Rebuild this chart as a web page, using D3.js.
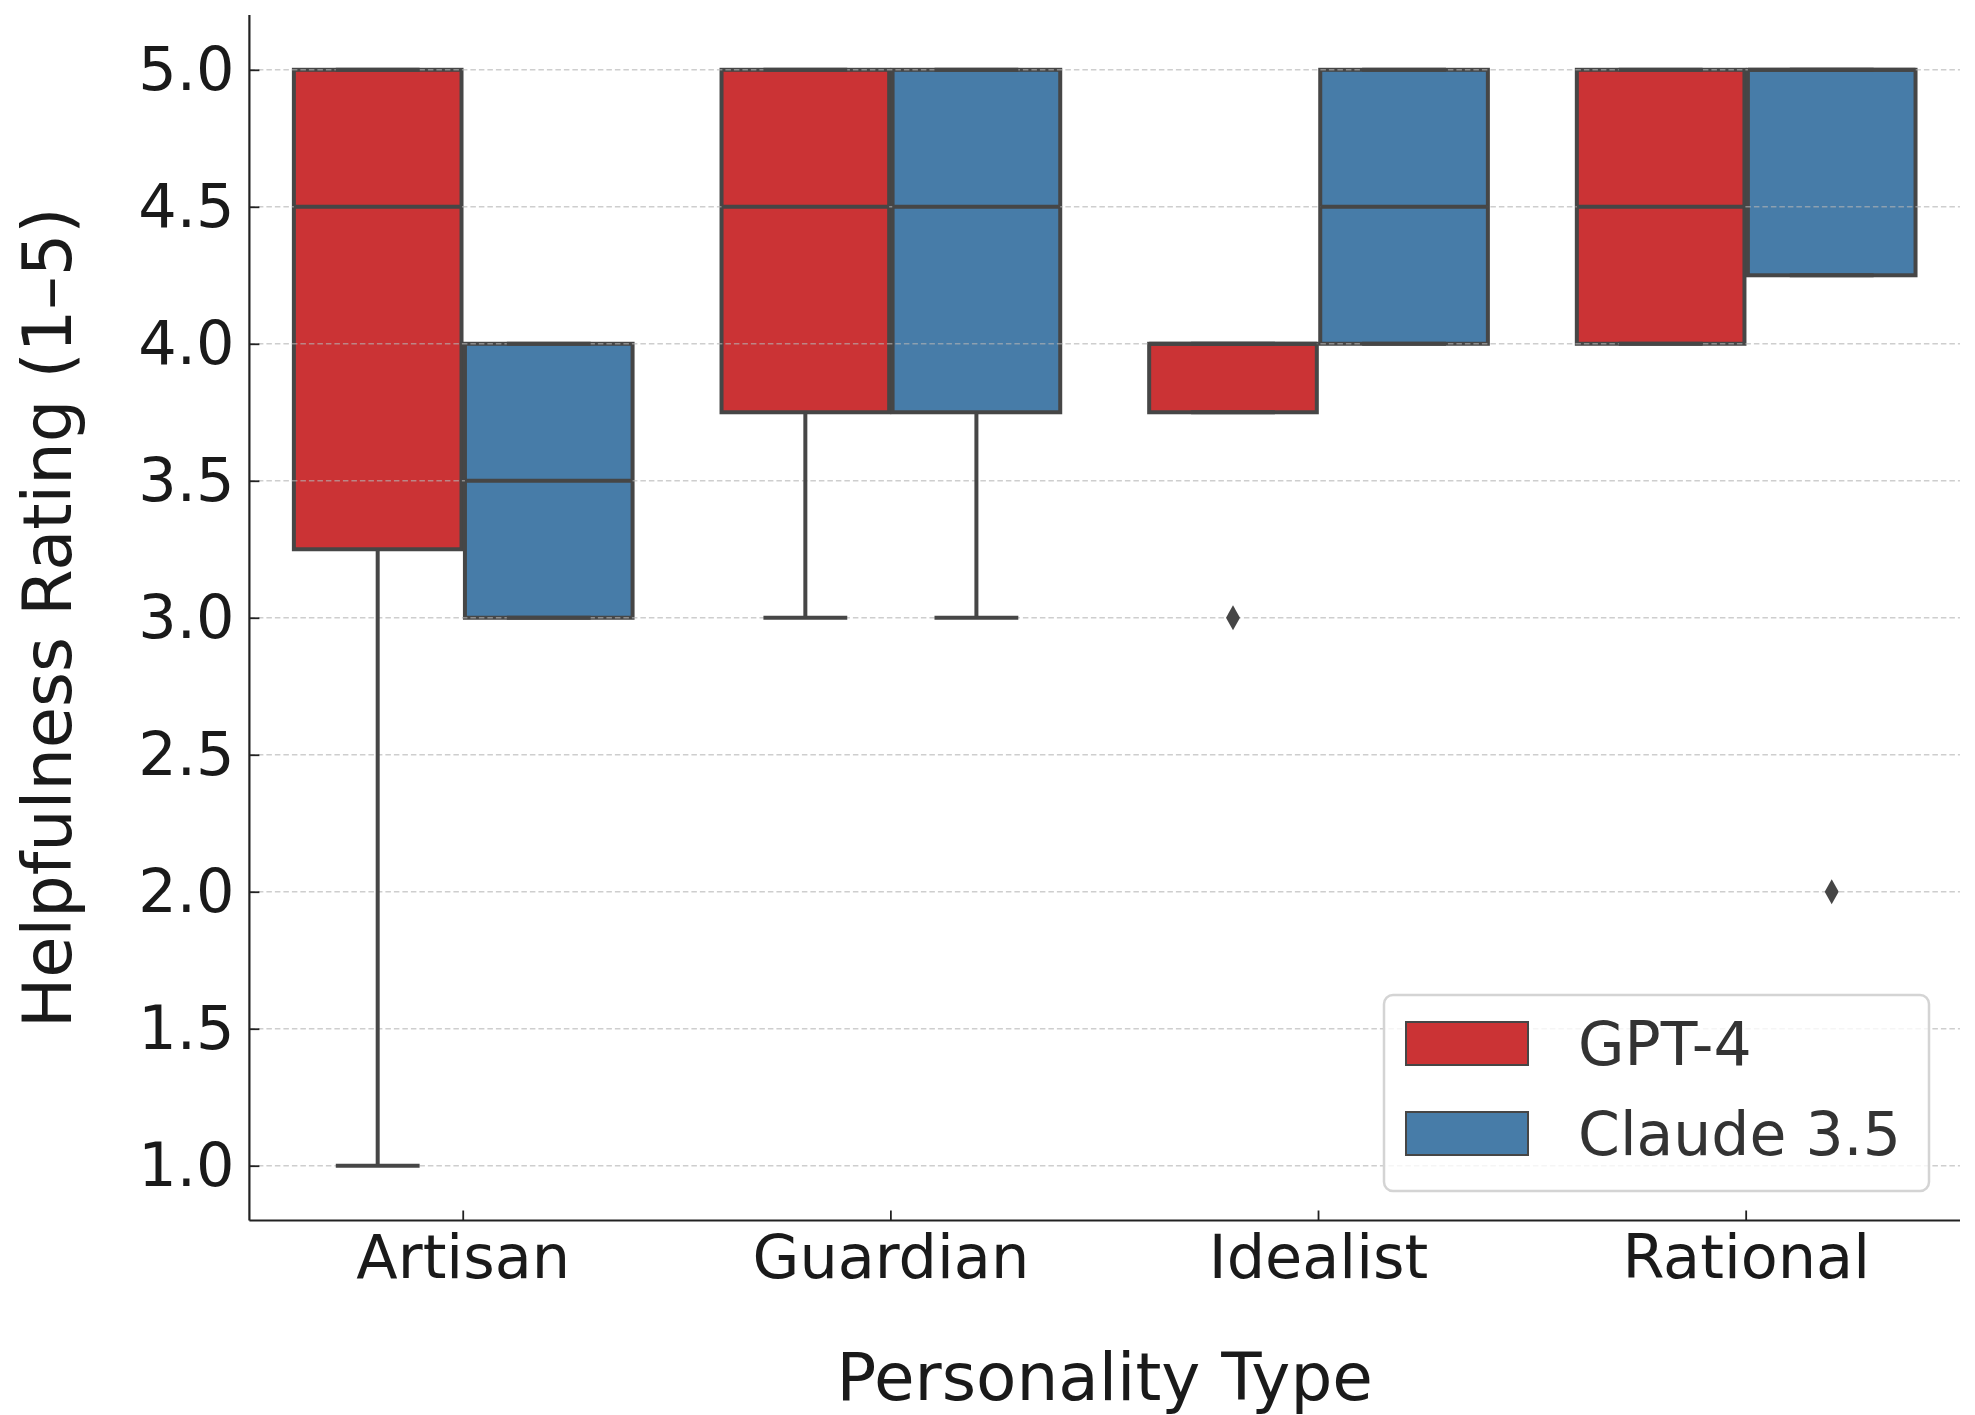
<!DOCTYPE html>
<html>
<head>
<meta charset="utf-8">
<script src="https://cdn.jsdelivr.net/npm/d3@7"></script>
<style>
  body { margin: 0; background: #fff; }
  text { font-family: "DejaVu Sans", sans-serif; }
</style>
</head>
<body>
<div id="chart"></div>
<script>
// chart data
var categories = ["Artisan", "Guardian", "Idealist", "Rational"];
var models = ["GPT-4", "Claude 3.5"];
var yTicks = [1.0, 1.5, 2.0, 2.5, 3.0, 3.5, 4.0, 4.5, 5.0];

// box statistics per category (GPT-4)
var gptQ1 = [3.25, 3.75, 3.75, 4.0];
var gptMed = [4.5, 4.5, 4.0, 4.5];
var gptQ3 = [5.0, 5.0, 4.0, 5.0];
var gptLo = [1.0, 3.0, 3.75, 4.0];
var gptHi = [5.0, 5.0, 4.0, 5.0];
var gptOut = [[], [], [3.0], []];

// box statistics per category (Claude 3.5)
var claudeQ1 = [3.0, 3.75, 4.0, 4.25];
var claudeMed = [3.5, 4.5, 4.5, 5.0];
var claudeQ3 = [4.0, 5.0, 5.0, 5.0];
var claudeLo = [3.0, 3.0, 4.0, 4.25];
var claudeHi = [4.0, 5.0, 5.0, 5.0];
var claudeOut = [[], [], [], [2.0]];

var colors = ["#cb3335", "#477ca8"];
var edge = "#464646";

var svgWidth = 1975;
var svgHeight = 1415;
var margin = {top: 15, right: 15, bottom: 194.5, left: 249.4};
var width = svgWidth - margin.left - margin.right;
var height = svgHeight - margin.top - margin.bottom;

var svg = d3.select("#chart")
  .append("svg")
  .attr("width", svgWidth)
  .attr("height", svgHeight);

svg.append("rect").attr("width", svgWidth).attr("height", svgHeight).attr("fill", "#fff");

var chartGroup = svg.append("g")
  .attr("transform", `translate(${margin.left}, ${margin.top})`);

// build rows from the arrays
var boxes = [];
categories.forEach(function(c, i) {
  boxes.push({cat: c, model: models[0], q1: gptQ1[i], med: gptMed[i], q3: gptQ3[i], lo: gptLo[i], hi: gptHi[i], out: gptOut[i], color: colors[0]});
  boxes.push({cat: c, model: models[1], q1: claudeQ1[i], med: claudeMed[i], q3: claudeQ3[i], lo: claudeLo[i], hi: claudeHi[i], out: claudeOut[i], color: colors[1]});
});

// scales
var xScale = d3.scaleBand().domain(categories).range([0, width]).padding(0);
var hueScale = d3.scaleBand().domain(models).range([xScale.bandwidth() * 0.1, xScale.bandwidth() * 0.9]);
var yScale = d3.scaleLinear().domain([0.8, 5.2]).range([height, 0]);

var boxW = hueScale.bandwidth() * 0.98;
var centerX = d => xScale(d.cat) + hueScale(d.model) + hueScale.bandwidth() / 2;

// boxes
chartGroup.selectAll("rect.box")
  .data(boxes)
  .enter()
  .append("rect")
  .attr("class", "box")
  .attr("x", d => centerX(d) - boxW / 2)
  .attr("y", d => yScale(d.q3))
  .attr("width", boxW)
  .attr("height", d => yScale(d.q1) - yScale(d.q3))
  .attr("fill", d => d.color)
  .attr("stroke", edge)
  .attr("stroke-width", 4);

// grid, drawn over the boxes
chartGroup.selectAll("line.grid")
  .data(yTicks)
  .enter()
  .append("line")
  .attr("x1", 0)
  .attr("x2", width)
  .attr("y1", d => yScale(d))
  .attr("y2", d => yScale(d))
  .attr("stroke", "#b4b4b4")
  .attr("stroke-opacity", 0.65)
  .attr("stroke-width", 1.6)
  .attr("stroke-dasharray", "5.5,3");

// whiskers
chartGroup.selectAll("line.wlo")
  .data(boxes.filter(d => d.lo < d.q1))
  .enter()
  .append("line")
  .attr("x1", centerX).attr("x2", centerX)
  .attr("y1", d => yScale(d.q1)).attr("y2", d => yScale(d.lo))
  .attr("stroke", edge).attr("stroke-width", 4);

chartGroup.selectAll("line.whi")
  .data(boxes.filter(d => d.hi > d.q3))
  .enter()
  .append("line")
  .attr("x1", centerX).attr("x2", centerX)
  .attr("y1", d => yScale(d.q3)).attr("y2", d => yScale(d.hi))
  .attr("stroke", edge).attr("stroke-width", 4);

// caps
["lo", "hi"].forEach(function(k) {
  chartGroup.selectAll("line.cap" + k)
    .data(boxes)
    .enter()
    .append("line")
    .attr("x1", d => centerX(d) - boxW / 4)
    .attr("x2", d => centerX(d) + boxW / 4)
    .attr("y1", d => yScale(d[k]))
    .attr("y2", d => yScale(d[k]))
    .attr("stroke", edge).attr("stroke-width", 4);
});

// medians
chartGroup.selectAll("line.median")
  .data(boxes)
  .enter()
  .append("line")
  .attr("x1", d => centerX(d) - boxW / 2)
  .attr("x2", d => centerX(d) + boxW / 2)
  .attr("y1", d => yScale(d.med))
  .attr("y2", d => yScale(d.med))
  .attr("stroke", edge).attr("stroke-width", 4);

// outliers (thin diamonds)
var fliers = [];
boxes.forEach(d => d.out.forEach(v => fliers.push({box: d, v: v})));
chartGroup.selectAll("path.flier")
  .data(fliers)
  .enter()
  .append("path")
  .attr("d", "M0,-12.5 L7,0 L0,12.5 L-7,0 Z")
  .attr("transform", d => `translate(${centerX(d.box)}, ${yScale(d.v)})`)
  .attr("fill", edge);

// axes
var leftAxis = d3.axisLeft(yScale).tickValues(yTicks).tickFormat(d3.format(".1f")).tickSize(-10).tickPadding(15);
var bottomAxis = d3.axisBottom(xScale).tickSize(-10).tickPadding(15);

var yG = chartGroup.append("g").call(leftAxis);
var xG = chartGroup.append("g").attr("transform", `translate(0, ${height})`).call(bottomAxis);

[yG, xG].forEach(function(g) {
  g.select(".domain").attr("stroke", "#222").attr("stroke-width", 2.2);
  g.selectAll(".tick line").attr("stroke", "#222").attr("stroke-width", 1.8);
  g.selectAll(".tick text").attr("fill", "#1a1a1a").style("font-size", "60.5px").style("font-family", "DejaVu Sans");
});
// draw only the spine, no outer tick stubs
yG.select(".domain").attr("d", `M0,${height}V0`);
xG.select(".domain").attr("d", `M0,0H${width}`);

// axis labels
svg.append("text")
  .attr("x", margin.left + width / 2)
  .attr("y", 1400)
  .attr("text-anchor", "middle")
  .attr("fill", "#1a1a1a")
  .style("font-size", "66px")
  .text("Personality Type");

svg.append("text")
  .attr("transform", `translate(71, ${margin.top + height / 2}) rotate(-90)`)
  .attr("text-anchor", "middle")
  .attr("fill", "#1a1a1a")
  .style("font-size", "67px")
  .text("Helpfulness Rating (1–5)");

// legend
var legend = svg.append("g").attr("transform", "translate(1384, 995)");
legend.append("rect")
  .attr("width", 545).attr("height", 196).attr("rx", 9)
  .attr("fill", "#fff").attr("fill-opacity", 0.8)
  .attr("stroke", "#d4d4d4").attr("stroke-width", 2.5);

var items = legend.selectAll("g.item")
  .data(models)
  .enter()
  .append("g")
  .attr("transform", (d, i) => `translate(22, ${27 + i * 90})`);

items.append("rect")
  .attr("width", 122).attr("height", 43)
  .attr("fill", (d, i) => colors[i])
  .attr("stroke", edge).attr("stroke-width", 2);

items.append("text")
  .attr("x", 172).attr("y", 43)
  .attr("fill", "#333")
  .style("font-size", "60px")
  .text(d => d);
</script>
</body>
</html>
